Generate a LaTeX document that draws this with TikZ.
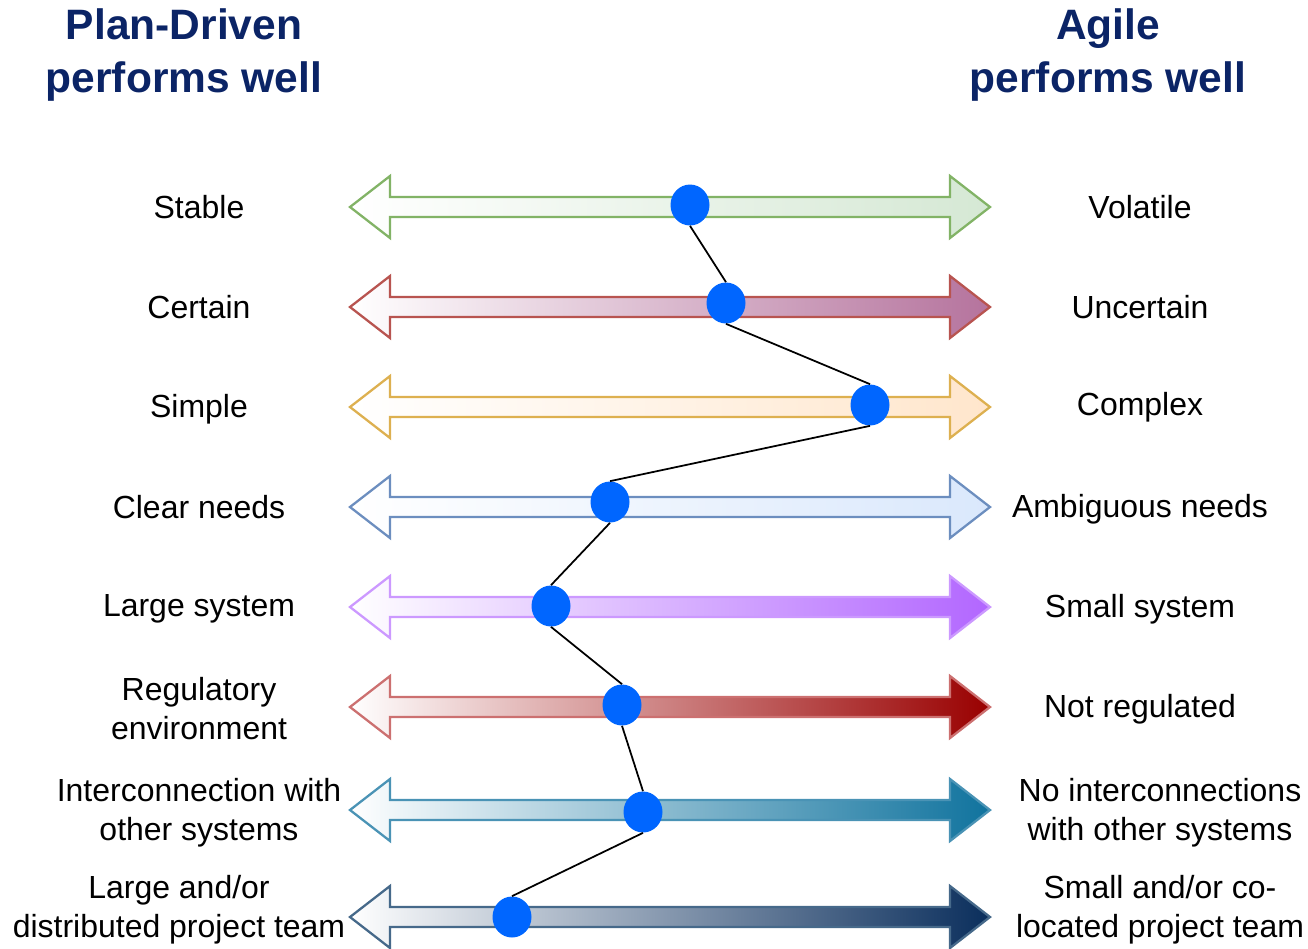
\documentclass[tikz,border=0pt]{standalone}
\usepackage{fontspec}
\setmainfont{Liberation Sans}
\usetikzlibrary{shapes.geometric}

\definecolor{titleblue}{HTML}{0B2466}
\definecolor{dotblue}{HTML}{0066FF}
\definecolor{lineA}{HTML}{82B366}\definecolor{fillA}{HTML}{D5E8D4}
\definecolor{lineB}{HTML}{B85450}\definecolor{fillB}{HTML}{B5739D}
\definecolor{lineC}{HTML}{DDB050}\definecolor{fillC}{HTML}{FFE6CC}
\definecolor{lineD}{HTML}{6C8EBF}\definecolor{fillD}{HTML}{DAE8FC}
\definecolor{lineE}{HTML}{CC99FF}\definecolor{fillE}{HTML}{B266FF}
\definecolor{lineF}{HTML}{CC7070}\definecolor{fillF}{HTML}{990000}
\definecolor{lineG}{HTML}{4A93B5}\definecolor{fillG}{HTML}{10739E}
\definecolor{lineH}{HTML}{46698A}\definecolor{fillH}{HTML}{0A2E5C}

% double-headed bar across the middle, #1 = row, #2 = outline, #3 = right end of fill
\newcommand{\twoway}[3]{%
  \path[draw=#2, line width=1.3pt, line join=miter, left color=white, right color=#3]
    (350,#1) -- (390,#1-31) -- (390,#1-10) -- (950,#1-10) -- (950,#1-31)
    -- (990,#1) -- (950,#1+31) -- (950,#1+10) -- (390,#1+10) -- (390,#1+31) -- cycle;}

\begin{document}
\begin{tikzpicture}[x=0.02cm, y=-0.02cm,
  heading/.style={font=\fontsize{24.2}{29.6}\selectfont\bfseries, text=titleblue, align=center, inner sep=0pt},
  side/.style={font=\fontsize{18.2}{22.2}\selectfont, align=center, inner sep=0pt},
  dot/.style={ellipse, fill=dotblue, minimum width=0.78cm, minimum height=0.82cm, inner sep=0pt}]
\useasboundingbox (0,0) rectangle (1308,948);

\node[heading] (plan) at (184,55) {Plan-Driven\\performs well};
\node[heading] (agile) at (1108,55) {Agile\\performs well};

\twoway{207}{lineA}{fillA}
\twoway{307}{lineB}{fillB}
\twoway{407}{lineC}{fillC}
\twoway{507}{lineD}{fillD}
\twoway{607}{lineE}{fillE}
\twoway{707}{lineF}{fillF}
\twoway{810}{lineG}{fillG}
\twoway{917}{lineH}{fillH}

\node[side] (l1) at (199,207) {Stable};
\node[side] (l2) at (199,307) {Certain};
\node[side] (l3) at (199,409) {Simple};
\node[side] (l4) at (199,507) {Clear needs};
\node[side] (l5) at (199,609) {Large system};
\node[side] (l6) at (199,709) {Regulatory\\environment};
\node[side] (l7) at (199,813) {Interconnection with\\other systems};
\node[side] (l8) at (179,910) {Large and/or\\distributed project team};

\node[side] (r1) at (1140,207) {Volatile};
\node[side] (r2) at (1140,307) {Uncertain};
\node[side] (r3) at (1140,407) {Complex};
\node[side] (r4) at (1140,509) {Ambiguous needs};
\node[side] (r5) at (1140,609) {Small system};
\node[side] (r6) at (1140,709) {Not regulated};
\node[side] (r7) at (1160,813) {No interconnections\\with other systems};
\node[side] (r8) at (1160,910) {Small and/or co-\\located project team};

\node[dot] (d1) at (690,205) {};
\node[dot] (d2) at (726,303) {};
\node[dot] (d3) at (870,405) {};
\node[dot] (d4) at (610,502) {};
\node[dot] (d5) at (551,606) {};
\node[dot] (d6) at (622,705) {};
\node[dot] (d7) at (643,812) {};
\node[dot] (d8) at (512,917) {};

\draw[line width=1pt] (d1.south) -- (d2.north);
\draw[line width=1pt] (d2.south) -- (d3.north);
\draw[line width=1pt] (d3.south) -- (d4.north);
\draw[line width=1pt] (d4.south) -- (d5.north);
\draw[line width=1pt] (d5.south) -- (d6.north);
\draw[line width=1pt] (d6.south) -- (d7.north);
\draw[line width=1pt] (d7.south) -- (d8.north);
\end{tikzpicture}
\end{document}
